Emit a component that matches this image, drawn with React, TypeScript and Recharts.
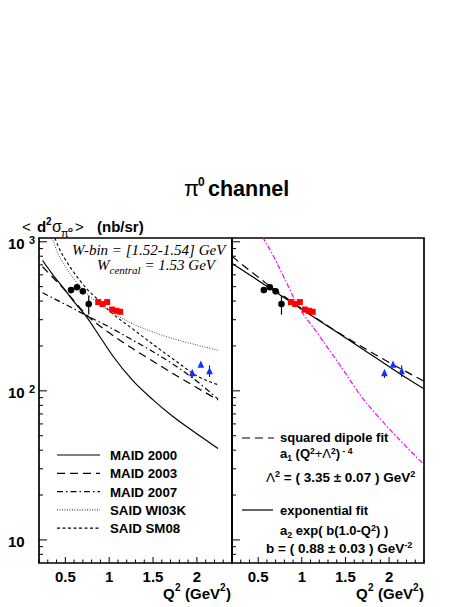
import React from "react";
import {
  ComposedChart,
  ErrorBar,
  Line,
  ReferenceArea,
  Scatter,
  XAxis,
  YAxis,
} from "recharts";

const SANS = '"Liberation Sans", Arial, Helvetica, sans-serif';
const SERIF = '"Liberation Serif", "Times New Roman", serif';

// axis ticks
const xTicks = [0.2, 0.3, 0.4, 0.5, 0.6, 0.7, 0.8, 0.9, 1, 1.1, 1.2, 1.3, 1.4, 1.5, 1.6, 1.7, 1.8, 1.9, 2, 2.1, 2.2, 2.3, 2.4];
const xLabels = [0.5, 1, 1.5, 2];
const xLabelText = ["0.5", "1", "1.5", "2"];
const yTicks = [8, 9, 10, 20, 30, 40, 50, 60, 70, 80, 90, 100, 200, 300, 400, 500, 600, 700, 800, 900, 1000];
const yLabels = [10, 100, 1000];
const yLabelExp = ["", "2", "3"];

// measured points
const blackQ2 = [0.565, 0.633, 0.7, 0.767];
const blackVal = [474, 495, 465, 382];
const blackErr: [number, number][] = [[12, 12], [12, 12], [12, 12], [57, 54]];

const redQ2 = [0.875, 0.924, 0.977, 1.034, 1.083, 1.125];
const redVal = [394, 382, 394, 351, 344, 339];
const redErr: [number, number][] = [[8, 8], [8, 8], [8, 8], [8, 8], [8, 8], [8, 8]];

const blueQ2 = [1.947, 2.045, 2.144];
const blueVal = [131, 149, 135];
const blueErr: [number, number][] = [[9, 5], [5, 5], [11, 13]];

// model curves (left panel)
const maid2000Q2 = [0.24, 0.35, 0.48, 0.6, 0.74, 0.9, 1.04, 1.27, 1.5, 1.73, 1.99, 2.24];
const maid2000Val = [750, 610, 488, 395, 315, 228, 172, 117, 87, 67, 52, 41];

const maid2003Q2 = [0.24, 0.5, 0.75, 1.0, 1.25, 1.5, 1.75, 2.0, 2.24];
const maid2003Val = [680, 470, 320, 245, 195, 158, 128, 105, 87];

const maid2007Q2 = [0.24, 0.5, 0.75, 1.0, 1.25, 1.5, 1.75, 2.0, 2.24];
const maid2007Val = [455, 380, 318, 268, 222, 183, 148, 116, 88];

const wi03kQ2 = [0.33, 0.4, 0.5, 0.6, 0.75, 0.9, 1.0, 1.25, 1.5, 1.75, 2.0, 2.24];
const wi03kVal = [1150, 880, 680, 560, 445, 380, 345, 285, 248, 222, 203, 187];

const sm08Q2 = [0.36, 0.42, 0.5, 0.6, 0.75, 0.9, 1.0, 1.25, 1.5, 1.75, 2.0, 2.24];
const sm08Val = [1150, 930, 760, 620, 480, 395, 345, 265, 205, 160, 126, 110];

// fits (right panel)
const dipoleQ2 = [0.2, 0.4, 0.6, 0.8, 1.0, 1.2, 1.4, 1.6, 1.8, 2.0, 2.2, 2.4];
const dipoleVal = [799, 643, 522, 429, 355, 297, 250, 212, 181, 155, 134, 116];

const expQ2 = [0.2, 0.6, 1.0, 1.4, 1.8, 2.2, 2.4];
const expVal = [717, 503, 353, 248, 174, 122, 103];

const magentaQ2 = [0.5, 0.558, 0.638, 0.8, 0.941, 1.2, 1.45, 1.698, 1.907, 2.15, 2.4];
const magentaVal = [1250, 1060, 880, 570, 387, 234, 145, 89, 64, 45, 32];

const rows = (q: number[], v: number[], e?: [number, number][]) =>
  q.map((q2, i) => ({ q2, v: v[i], err: e ? e[i] : undefined }));

const black = rows(blackQ2, blackVal, blackErr);
const red = rows(redQ2, redVal, redErr);
const blue = rows(blueQ2, blueVal, blueErr);

function XTick({ x, y, payload }: any) {
  const i = xLabels.indexOf(payload.value);
  const major = i >= 0;
  return (
    <g>
      <line x1={x} x2={x} y1={y} y2={y - (major ? 6 : 3.5)} stroke="#000" strokeWidth={1} />
      {major && (
        <text x={x} y={y + 19} textAnchor="middle" fontFamily={SANS} fontWeight="bold" fontSize={15} fill="#000">
          {xLabelText[i]}
        </text>
      )}
    </g>
  );
}

function makeYTick(withLabels: boolean) {
  return function YTick({ x, y, payload }: any) {
    const i = yLabels.indexOf(payload.value);
    const major = i >= 0;
    return (
      <g>
        <line x1={x} x2={x + (major ? 8 : 4)} y1={y} y2={y} stroke="#000" strokeWidth={1} />
        {withLabels && major && (
          <text x={8} y={y + 7} fontFamily={SANS} fontWeight="bold" fontSize={15} fill="#000">
            10
            {yLabelExp[i] && (
              <tspan x={29} dy={-5} fontSize={11}>
                {yLabelExp[i]}
              </tspan>
            )}
          </text>
        )}
      </g>
    );
  };
}

const LeftYTick = makeYTick(true);
const RightYTick = makeYTick(false);

const Circle = (p: any) => <circle cx={p.cx} cy={p.cy} r={3.3} fill="#000" />;
const Square = (p: any) => <rect x={p.cx - 3} y={p.cy - 3} width={6} height={6} fill="#ff0000" />;
const Triangle = (p: any) => (
  <polygon points={`${p.cx},${p.cy - 4.5} ${p.cx - 3.3},${p.cy + 2.8} ${p.cx + 3.3},${p.cy + 2.8}`} fill="#1030ff" />
);

function Points() {
  return [
    <Scatter key="b" data={black} dataKey="v" shape={Circle} isAnimationActive={false}>
      <ErrorBar dataKey="err" direction="y" width={0} stroke="#000" strokeWidth={1.2} isAnimationActive={false} />
    </Scatter>,
    <Scatter key="r" data={red} dataKey="v" shape={Square} isAnimationActive={false}>
      <ErrorBar dataKey="err" direction="y" width={0} stroke="#ff0000" strokeWidth={1.2} isAnimationActive={false} />
    </Scatter>,
    <Scatter key="u" data={blue} dataKey="v" shape={Triangle} isAnimationActive={false}>
      <ErrorBar dataKey="err" direction="y" width={0} stroke="#000" strokeWidth={1} isAnimationActive={false} />
    </Scatter>,
  ];
}

const W = 240;
const H = 607;
const margin = { top: 238, right: 8, bottom: 14, left: 0 };

function Frame() {
  return (
    <ReferenceArea
      x1={0.2}
      x2={2.4}
      y1={7}
      y2={1060}
      fill="none"
      stroke="#000"
      strokeWidth={1.7}
      ifOverflow="visible"
    />
  );
}

const curve = (q: number[], v: number[]) => rows(q, v);

function Axes({ yWidth, yTick }: { yWidth: number; yTick: any }) {
  return [
    <XAxis
      key="x"
      type="number"
      dataKey="q2"
      domain={[0.2, 2.4]}
      ticks={xTicks}
      interval={0}
      allowDataOverflow
      axisLine={false}
      tickLine={false}
      tickSize={0}
      tickMargin={0}
      height={30}
      tick={XTick}
    />,
    <YAxis
      key="y"
      type="number"
      scale="log"
      domain={[7, 1060]}
      ticks={yTicks}
      interval={0}
      allowDataOverflow
      axisLine={false}
      tickLine={false}
      tickSize={0}
      tickMargin={0}
      width={yWidth}
      tick={yTick}
    />,
  ];
}

function LeftPanel() {
  return (
    <ComposedChart width={W} height={H} margin={margin}>
      {Axes({ yWidth: 39, yTick: LeftYTick })}
      <Line data={curve(maid2000Q2, maid2000Val)} dataKey="v" type="monotone" stroke="#000" strokeWidth={1.2} dot={false} isAnimationActive={false} />
      <Line data={curve(maid2003Q2, maid2003Val)} dataKey="v" type="monotone" stroke="#000" strokeWidth={1.2} strokeDasharray="8 5" dot={false} isAnimationActive={false} />
      <Line data={curve(maid2007Q2, maid2007Val)} dataKey="v" type="monotone" stroke="#000" strokeWidth={1.2} strokeDasharray="6 3 1.5 3" dot={false} isAnimationActive={false} />
      <Line data={curve(wi03kQ2, wi03kVal)} dataKey="v" type="monotone" stroke="#333" strokeWidth={0.9} strokeDasharray="1 1.5" dot={false} isAnimationActive={false} />
      <Line data={curve(sm08Q2, sm08Val)} dataKey="v" type="monotone" stroke="#000" strokeWidth={1.1} strokeDasharray="3 2.5" dot={false} isAnimationActive={false} />
      {Points()}
      {Frame()}
    </ComposedChart>
  );
}

function RightPanel() {
  return (
    <ComposedChart width={W} height={H} margin={margin}>
      {Axes({ yWidth: 40, yTick: RightYTick })}
      <Line data={curve(magentaQ2, magentaVal)} dataKey="v" type="monotone" stroke="#ff00ff" strokeWidth={1.2} strokeDasharray="5 2 1.5 2" dot={false} isAnimationActive={false} />
      <Line data={curve(dipoleQ2, dipoleVal)} dataKey="v" type="monotone" stroke="#000" strokeWidth={1.2} strokeDasharray="8 5" dot={false} isAnimationActive={false} />
      <Line data={curve(expQ2, expVal)} dataKey="v" type="monotone" stroke="#000" strokeWidth={1.2} dot={false} isAnimationActive={false} />
      {Points()}
      {Frame()}
    </ComposedChart>
  );
}

const legendItems = ["MAID 2000", "MAID 2003", "MAID 2007", "SAID WI03K", "SAID SM08"];
const legendDash = ["", "8 5", "6 3 1.5 3", "1 1.5", "3 2.5"];

function Overlay() {
  const t = { fontFamily: SANS, fontWeight: "bold" as const, fill: "#000" };
  return (
    <svg width={469} height={607} style={{ position: "absolute", left: 0, top: 0, pointerEvents: "none" }}>
      {/* title */}
      <text x={184} y={196} fontFamily={SANS} fontSize={22} fill="#000">π</text>
      <text x={198} y={186} {...t} fontSize={12}>0</text>
      <text x={208} y={196} {...t} fontSize={21.5}>channel</text>

      {/* y axis title */}
      <text x={22} y={232} fontFamily={SANS} fontSize={15} fill="#000">&lt;</text>
      <text x={37} y={232} {...t} fontSize={15}>d</text>
      <text x={46} y={225} {...t} fontSize={10}>2</text>
      <text x={52} y={232} fontFamily={SANS} fontSize={16} fill="#000">σ</text>
      <text x={61} y={237} fontFamily={SANS} fontSize={11} fill="#000">π</text>
      <text x={68} y={232} {...t} fontSize={8}>o</text>
      <text x={75} y={232} fontFamily={SANS} fontSize={15} fill="#000">&gt;</text>
      <text x={97} y={232} {...t} fontSize={15}>(nb/sr)</text>

      {/* x axis titles */}
      {[230, 423].map((xr) => (
        <g key={xr}>
          <text x={xr - 67} y={599} {...t} fontSize={15}>Q</text>
          <text x={xr - 55} y={591} {...t} fontSize={10}>2</text>
          <text x={xr - 45} y={599} {...t} fontSize={15}>(GeV</text>
          <text x={xr - 10} y={591} {...t} fontSize={10}>2</text>
          <text x={xr - 4} y={599} {...t} fontSize={15}>)</text>
        </g>
      ))}

      {/* W bin text */}
      <text x={72} y={255} fontFamily={SERIF} fontStyle="italic" fontSize={15} fill="#000">
        W-bin = [1.52-1.54] GeV
      </text>
      <text x={97} y={270} fontFamily={SERIF} fontStyle="italic" fontSize={15} fill="#000">
        W<tspan dy={4} fontSize={11}>central</tspan>
        <tspan dy={-4}> = 1.53 GeV</tspan>
      </text>

      {/* left legend */}
      {legendItems.map((name, i) => {
        const y = 455 + i * 18.3;
        return (
          <g key={name}>
            <line
              x1={57}
              x2={100}
              y1={y}
              y2={y}
              stroke="#000"
              strokeWidth={i === 3 ? 0.9 : 1.2}
              strokeDasharray={legendDash[i] || undefined}
            />
            <text x={110} y={y + 5} {...t} fontSize={13.3}>
              {name}
            </text>
          </g>
        );
      })}

      {/* right annotations */}
      <line x1={242} x2={274} y1={438} y2={438} stroke="#000" strokeWidth={1.2} strokeDasharray="8 5" />
      <text x={280} y={442} {...t} fontSize={13}>squared dipole fit</text>
      <text x={280} y={458} {...t} fontSize={13}>
        a<tspan dy={3} fontSize={8.5}>1</tspan>
        <tspan dy={-3}> (Q</tspan>
        <tspan dy={-4} fontSize={8.5}>2</tspan>
        <tspan dy={4} fontWeight="normal">+Λ</tspan>
        <tspan dy={-4} fontSize={8.5}>2</tspan>
        <tspan dy={4}>)</tspan>
        <tspan dy={-4} fontSize={8.5}> - 4</tspan>
      </text>
      <text x={266} y={482} {...t} fontSize={13.5}>
        <tspan fontWeight="normal">Λ</tspan>
        <tspan dy={-5} fontSize={9}>2</tspan>
        <tspan dy={5}> = ( 3.35 ± 0.07 ) GeV</tspan>
        <tspan dy={-5} fontSize={9}>2</tspan>
      </text>

      <line x1={242} x2={273} y1={510} y2={510} stroke="#000" strokeWidth={1.2} />
      <text x={280} y={515} {...t} fontSize={13}>exponential fit</text>
      <text x={280} y={535} {...t} fontSize={13}>
        a<tspan dy={3} fontSize={9}>2</tspan>
        <tspan dy={-3}>  exp( b(1.0-Q</tspan>
        <tspan dy={-4} fontSize={9}>2</tspan>
        <tspan dy={4}>) )</tspan>
      </text>
      <text x={266} y={553} {...t} fontSize={13.5}>
        b = ( 0.88 ± 0.03 ) GeV
        <tspan dy={-5} fontSize={9}>-2</tspan>
      </text>
    </svg>
  );
}

export default function App() {
  return (
    <div style={{ position: "absolute", left: 0, top: 0, width: 469, height: 607, background: "#fff" }}>
      <div style={{ position: "absolute", left: 0, top: 0 }}>
        <LeftPanel />
      </div>
      <div style={{ position: "absolute", left: 192, top: 0 }}>
        <RightPanel />
      </div>
      <Overlay />
    </div>
  );
}
